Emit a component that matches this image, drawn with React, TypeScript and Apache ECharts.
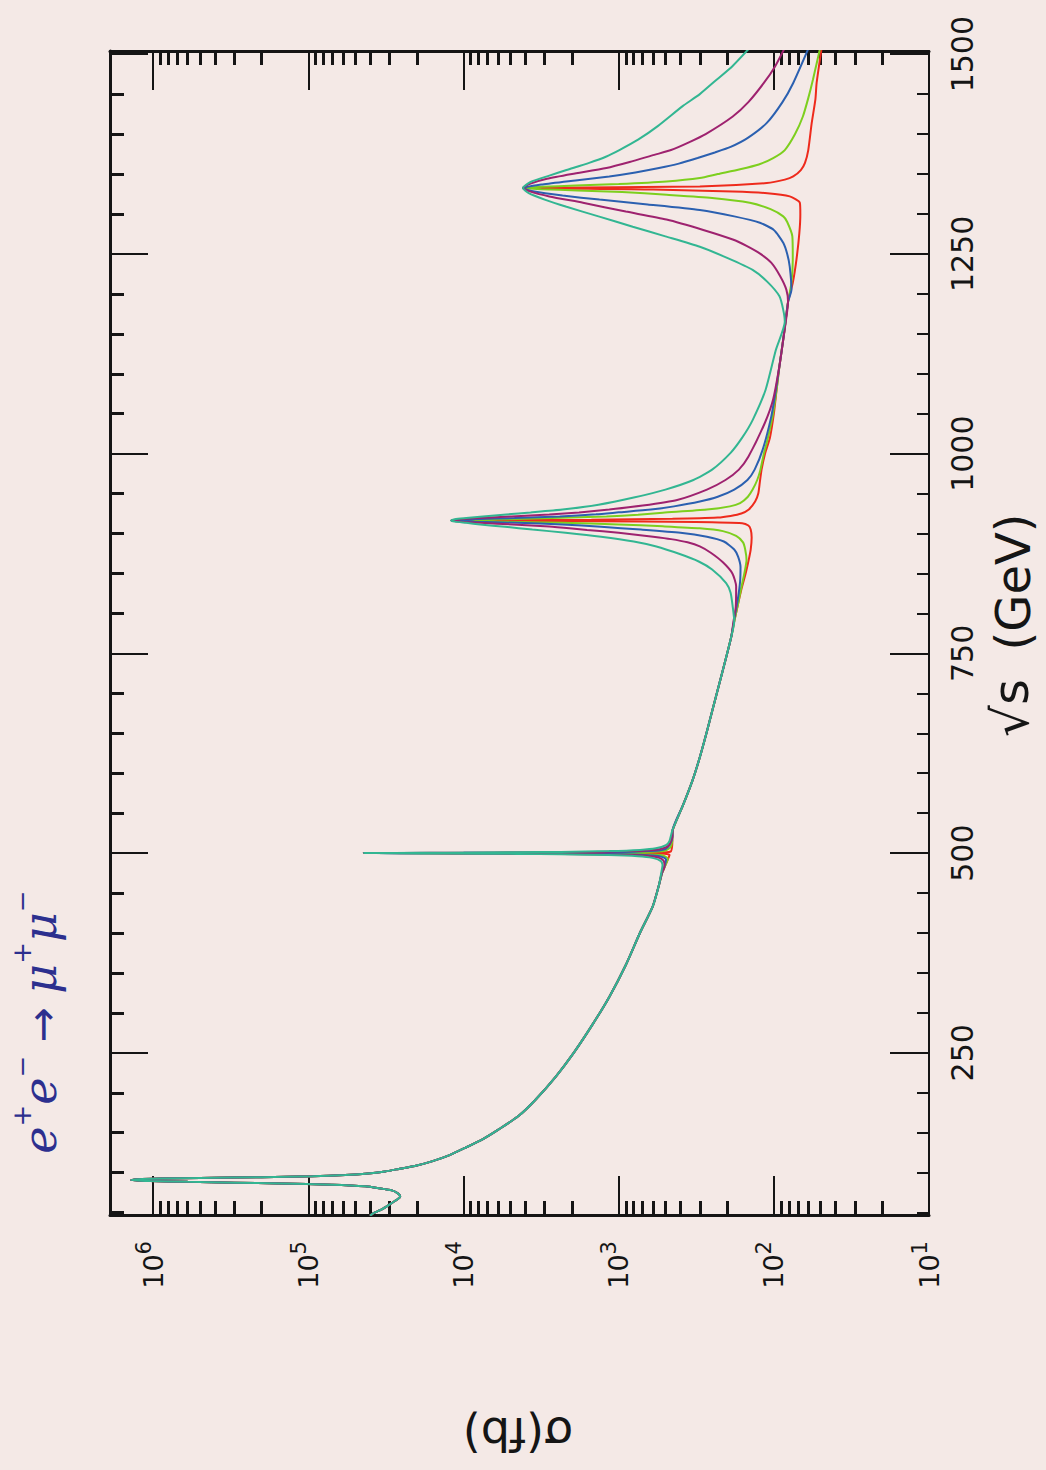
import { useEffect, useRef } from "react";
import * as echarts from "echarts";

// Cross-section of e+e- -> mu+mu- versus centre-of-mass energy.
// Every point is [sqrt(s) in GeV, sigma in fb].

// Z pole and the common low-energy fall-off (identical for all widths)
const lowEnergy: [number, number][] = [
  [46, 40000], [48.7, 38500], [55, 33000], [62, 29000], [67, 26500], [70.3, 25600], [74, 26500],
  [77.8, 29000], [80.5, 35000], [82.9, 43000], [85, 70500], [86.5, 150000], [87.5, 300000],
  [88.5, 600000], [89.5, 1050000], [90.6, 1390000], [91.7, 1250000], [92.6, 900000],
  [93.4, 500000], [94.3, 200000], [95.4, 94600], [97, 58000], [98.7, 43000], [101.5, 32000],
  [104.6, 26200], [109, 20000], [114.1, 16000], [122, 12300], [130.9, 9800], [142, 7500],
  [153.8, 5970], [170.5, 4450], [191, 3450], [220, 2550], [250, 1950], [285, 1480],
  [320, 1150], [360, 900], [400, 730], [433, 604], [460, 550],
];

// first resonance, one list per width
const red500: [number, number][] = [
  [475, 525], [483, 505], [493, 480], [498, 470], [499.6, 560], [499.85, 1500], [500, 44000],
  [500.15, 1500], [500.4, 560], [502, 462], [510, 452], [529, 448], [560, 385],
];
const green500: [number, number][] = [
  [475, 525], [483, 505], [493, 482], [497, 520], [498.5, 670], [499.25, 1250], [499.6, 3000],
  [499.8, 9300], [500, 44000], [500.2, 9300], [500.4, 3040], [500.75, 1230], [501.5, 655],
  [503, 505], [507, 465], [515, 452], [529, 448], [560, 385],
];
const blue500: [number, number][] = [
  [475, 526], [483, 508], [492, 495], [495, 520], [497, 600], [498.5, 950], [499, 1540],
  [499.4, 3400], [499.7, 10000], [499.85, 22500], [500, 44000], [500.15, 22400], [500.3, 10000],
  [500.6, 3350], [501, 1520], [501.5, 930], [503, 575], [505, 500], [510, 470], [520, 450],
  [529, 449], [560, 385],
];
const purple500: [number, number][] = [
  [475, 528], [483, 507], [490, 512], [494, 546], [496, 615], [497.5, 822], [498.5, 1435],
  [499.2, 3690], [499.6, 10960], [499.8, 24800], [500, 44000], [500.2, 24800], [500.4, 10950],
  [500.8, 3680], [501.5, 1420], [502.5, 806], [504, 592], [506, 515], [510, 474], [520, 452],
  [529, 449], [560, 385],
];
const teal500: [number, number][] = [
  [475, 532], [485, 522], [490, 534], [494, 607], [496, 752], [497.5, 1164], [498.5, 2360],
  [499, 4470], [499.5, 13100], [499.75, 27500], [500, 44000], [500.25, 27500], [500.5, 13060],
  [501, 4460], [501.5, 2350], [502.5, 1150], [504, 729], [506, 576], [510, 496], [515, 471],
  [529, 450], [560, 385],
];

// common stretch between the first and second resonance
const midRange: [number, number][] = [
  [592, 333], [620, 300], [650, 272], [680, 248], [710, 226], [740, 206], [771, 188],
];

// second resonance
const red916: [number, number][] = [
  [790, 180], [810, 171], [830, 162], [850, 152], [865, 146], [880, 141], [895, 139], [905, 141],
  [910, 146], [913, 160], [914.5, 320], [915.5, 1500], [916.4, 12000], [917.3, 1500],
  [918.5, 450], [920, 230], [922, 190], [925, 162], [930, 145], [940, 132], [950, 126],
  [965, 123], [980, 120], [1000, 114], [1020, 106], [1050, 100], [1080, 96], [1110, 92],
  [1150, 86], [1190, 81],
];
const green916: [number, number][] = [
  [790, 180], [810, 171], [830, 163], [850, 155], [867, 150], [880, 153], [889, 158], [897, 175],
  [903, 213], [906.5, 300], [909, 520], [911.4, 1000], [913.4, 2300], [914.9, 6000],
  [916.4, 12000], [917.9, 6200], [919.4, 2700], [921.4, 1200], [923.5, 750], [926, 520],
  [930, 270], [934, 192], [938, 165], [946, 147], [955, 137], [967, 128], [980, 122],
  [1000, 116], [1014, 111], [1046, 102], [1080, 96], [1110, 92], [1150, 86], [1190, 81],
];
const blue916: [number, number][] = [
  [790, 181], [817, 171], [840, 165], [858, 164], [871, 170], [880, 180], [890, 210], [896, 270],
  [901, 400], [905, 720], [908.4, 1300], [911.4, 2300], [913.4, 4500], [914.9, 8500],
  [916.4, 12000], [917.9, 8600], [919.4, 4700], [921.4, 2400], [924, 1400], [926.5, 1000],
  [930, 620], [934, 440], [940, 300], [946, 230], [955, 180], [967, 148], [980, 133],
  [1005, 118], [1046, 104], [1080, 97], [1110, 92], [1150, 86], [1190, 81],
];
const purple916: [number, number][] = [
  [790, 182], [808, 176], [834, 175], [850, 185], [864, 213], [876, 255], [884, 300], [889, 360],
  [893, 460], [896, 600], [901, 1000], [904.5, 1600], [906.4, 2000], [908.9, 2800], [911.4, 4800],
  [913.4, 7800], [914.9, 10500], [916.4, 12000], [917.9, 10500], [919.4, 7900], [921.4, 4900],
  [923.9, 2800], [926.4, 1800], [930, 1150], [935, 700], [942, 420], [955, 270], [967, 205],
  [980, 168], [996, 146], [1039, 114], [1068, 101], [1110, 92], [1150, 86], [1190, 81],
];
const teal916: [number, number][] = [
  [790, 180], [808, 184], [826, 190], [838, 203], [855, 250], [865, 305], [874, 400], [884, 580],
  [890, 800], [896, 1300], [901, 2200], [905, 3600], [908.4, 5400], [911.4, 7800],
  [913.4, 9600], [914.9, 11400], [916.4, 12000], [917.9, 11400], [919.4, 9600], [921.4, 7500],
  [923.9, 5300], [926.4, 3700], [930, 2300], [936, 1350], [945, 800], [955, 500], [967, 330],
  [980, 250], [1001, 190], [1020, 160], [1042, 137], [1080, 113], [1130, 97], [1165, 85],
];

// third resonance
const red1332: [number, number][] = [
  [1214, 75.5], [1243, 71.5], [1276, 68.5], [1300, 67.5], [1314, 68], [1322, 79], [1326, 110],
  [1328, 184], [1330.5, 600], [1332.5, 4140], [1334.5, 300], [1338.7, 111], [1343, 85],
  [1347, 75], [1355, 67], [1364, 63], [1380, 60], [1414, 57], [1443, 54], [1464, 53], [1510, 49],
];
const green1332: [number, number][] = [
  [1214, 77], [1243, 75.5], [1272, 76], [1290, 82], [1297, 87], [1306, 105], [1314, 143],
  [1320, 250], [1324, 490], [1327.5, 950], [1329.5, 1850], [1331, 3150], [1332.5, 4140],
  [1334, 3150], [1335.5, 1900], [1337.5, 1000], [1340.7, 492], [1345, 300], [1350, 230],
  [1356, 165], [1362, 125], [1370, 101], [1380, 85], [1400, 73], [1422, 65], [1445, 60],
  [1468, 56], [1510, 50],
];
const blue1332: [number, number][] = [
  [1205, 77], [1234, 79], [1250, 82], [1264, 87], [1280, 100], [1289, 123], [1297, 180],
  [1305, 300], [1312, 650], [1318, 1330], [1323, 2300], [1328, 3500], [1332.5, 4140],
  [1337, 3100], [1342, 1900], [1347, 1150], [1352, 780], [1357.5, 550], [1363, 410],
  [1370, 310], [1377, 240], [1384, 190], [1395, 148], [1414, 111], [1440, 88], [1464, 75],
  [1510, 59],
];
const purple1332: [number, number][] = [
  [1205, 83], [1222, 91], [1239, 104], [1250, 122], [1260, 150], [1268, 184], [1280, 285],
  [1293, 492], [1303, 900], [1314, 1700], [1322, 2800], [1328, 3700], [1332.5, 4140],
  [1338, 3700], [1344, 2900], [1350, 2000], [1357.5, 1200], [1365, 850], [1374, 590],
  [1380, 460], [1390, 350], [1400, 275], [1422, 184], [1440, 146], [1464, 116], [1485, 98],
  [1510, 84],
];
const teal1332: [number, number][] = [
  [1180, 87], [1197, 92], [1215, 110], [1230, 137], [1245, 200], [1259, 300], [1272, 500],
  [1284, 812], [1297, 1350], [1309, 2170], [1318, 3000], [1326, 3800], [1332.5, 4140],
  [1340, 3700], [1348, 2800], [1355, 2170], [1364, 1550], [1372, 1200], [1380, 990],
  [1393, 750], [1410, 560], [1435, 387], [1450, 300], [1468, 234], [1485, 185], [1510, 140],
];

// axis ticks
const sigmaExponents = [1, 2, 3, 4, 5, 6];
const sigmaMantissas = [2, 3, 4, 5, 6, 7, 8, 9];
const sqrtsMajor = [250, 500, 750, 1000, 1250, 1500];
const sqrtsMinor = [50, 100, 150, 200, 300, 350, 400, 450, 550, 600, 650, 700, 800, 850, 900, 950,
  1050, 1100, 1150, 1200, 1300, 1350, 1400, 1450];

const SIGMA_MIN = 10;
const SIGMA_MAX = 1.9e6;
const SQRTS_MIN = 47;
const SQRTS_MAX = 1504;

const curves = [
  { name: "width 1", color: "#ee2a1c", parts: [red500, red916, red1332] },
  { name: "width 2", color: "#7dcf1e", parts: [green500, green916, green1332] },
  { name: "width 3", color: "#2b60b0", parts: [blue500, blue916, blue1332] },
  { name: "width 4", color: "#9e226f", parts: [purple500, purple916, purple1332] },
  { name: "width 5", color: "#32b692", parts: [teal500, teal916, teal1332] },
];

const INK = "#151515";
const PAPER = "#f4e9e6";
const TITLE = "#2c2f8e";
const FONT = "DejaVu Sans";

export default function App() {
  const ref = useRef<HTMLDivElement>(null);

  useEffect(() => {
    if (!ref.current) return;
    const chart = echarts.init(ref.current, undefined, { renderer: "svg" });

    const sigmaMinor: number[] = [];
    for (const e of sigmaExponents.slice(0, 5)) {
      for (const m of sigmaMantissas) sigmaMinor.push(Math.log10(m * Math.pow(10, e)));
    }

    const xBase = {
      type: "value" as const,
      min: Math.log10(SIGMA_MIN),
      max: Math.log10(SIGMA_MAX),
      inverse: true,
      splitLine: { show: false },
      axisLabel: { show: false },
      axisTick: { show: false },
      axisLine: { show: false },
    };
    const yBase = {
      type: "value" as const,
      min: SQRTS_MIN,
      max: SQRTS_MAX,
      splitLine: { show: false },
      axisLabel: { show: false },
      axisTick: { show: false },
      axisLine: { show: false },
    };
    const frame = (w: number) => ({ show: true, onZero: false, lineStyle: { color: INK, width: w } });
    const ticks = (values: number[], length: number, width: number) => ({
      show: true,
      inside: true,
      length,
      customValues: values,
      lineStyle: { color: INK, width },
    });

    const series = curves.map((c) => {
      const pts = [...lowEnergy, ...c.parts[0], ...midRange, ...c.parts[1], ...c.parts[2]];
      return {
        name: c.name,
        type: "line" as const,
        xAxisIndex: 0,
        yAxisIndex: 0,
        showSymbol: false,
        symbol: "none",
        smooth: 0.2,
        clip: true,
        lineStyle: { color: c.color, width: 2 },
        data: pts.map(([s, sig]) => [Math.log10(sig), s]),
      };
    });

    chart.setOption({
      animation: false,
      backgroundColor: PAPER,
      textStyle: { fontFamily: FONT },
      grid: { left: 110, right: 117, top: 51, bottom: 255, containLabel: false, outerBoundsMode: "none" },
      xAxis: [
        {
          ...xBase,
          position: "bottom",
          axisLine: frame(3),
          axisTick: ticks(sigmaExponents, 39, 2),
          axisLabel: {
            show: true,
            customValues: sigmaExponents,
            rotate: 90,
            margin: 26,
            fontSize: 27,
            color: INK,
            fontFamily: FONT,
            formatter: (v: number) => `{b|10}{s|${Math.round(v)}}`,
            rich: {
              b: { fontSize: 27, lineHeight: 40, verticalAlign: "middle", color: INK, fontFamily: FONT },
              s: { fontSize: 21, lineHeight: 20, verticalAlign: "top", color: INK, fontFamily: FONT },
            },
          },
        },
        { ...xBase, position: "bottom", axisTick: ticks(sigmaMinor, 14, 3) },
        { ...xBase, position: "top", axisLine: frame(3), axisTick: ticks(sigmaExponents, 39, 2) },
        { ...xBase, position: "top", axisTick: ticks(sigmaMinor, 14, 3) },
      ],
      yAxis: [
        {
          ...yBase,
          position: "right",
          axisLine: frame(2),
          axisTick: ticks(sqrtsMajor, 39, 2),
          axisLabel: {
            show: true,
            customValues: sqrtsMajor,
            rotate: 90,
            margin: 18,
            fontSize: 30,
            color: INK,
            fontFamily: FONT,
            formatter: (v: number) => String(Math.round(v)),
          },
        },
        { ...yBase, position: "right", axisTick: ticks(sqrtsMinor, 12, 2) },
        { ...yBase, position: "left", axisLine: frame(3), axisTick: ticks(sqrtsMajor, 38, 2) },
        { ...yBase, position: "left", axisTick: ticks(sqrtsMinor, 14, 3) },
      ],
      graphic: [
        {
          type: "text",
          x: 1011,
          y: 708,
          rotation: Math.PI / 2,
          style: { text: "√s", fontSize: 50, fontFamily: FONT, fill: INK, align: "center", verticalAlign: "middle" },
        },
        {
          type: "text",
          x: 1013,
          y: 582,
          rotation: Math.PI / 2,
          style: { text: "(GeV)", fontSize: 48, fontFamily: FONT, fill: INK, align: "center", verticalAlign: "middle" },
        },
        {
          type: "text",
          x: 518,
          y: 1434,
          rotation: Math.PI,
          style: { text: "σ(fb)", fontSize: 46, fontFamily: FONT, fill: INK, align: "center", verticalAlign: "middle" },
        },
        {
          type: "text",
          x: 36,
          y: 1022,
          rotation: Math.PI / 2,
          style: {
            text: "{e|e}{p|+}{e|e}{p|−}{a| → }{e|μ}{p|+}{e|μ}{p|−}",
            align: "center",
            verticalAlign: "middle",
            fill: TITLE,
            rich: {
              e: { fontSize: 46, lineHeight: 54, verticalAlign: "bottom", fontStyle: "italic", fontFamily: "DejaVu Serif", fill: TITLE },
              p: { fontSize: 26, lineHeight: 26, verticalAlign: "top", fontFamily: "DejaVu Serif", fill: TITLE },
              a: { fontSize: 42, lineHeight: 54, verticalAlign: "bottom", fontFamily: FONT, fill: TITLE },
            },
          },
        },
      ],
      series,
    });

    return () => chart.dispose();
  }, []);

  return (
    <div
      ref={ref}
      style={{ position: "fixed", left: 0, top: 0, width: 1046, height: 1470, background: PAPER }}
    />
  );
}
